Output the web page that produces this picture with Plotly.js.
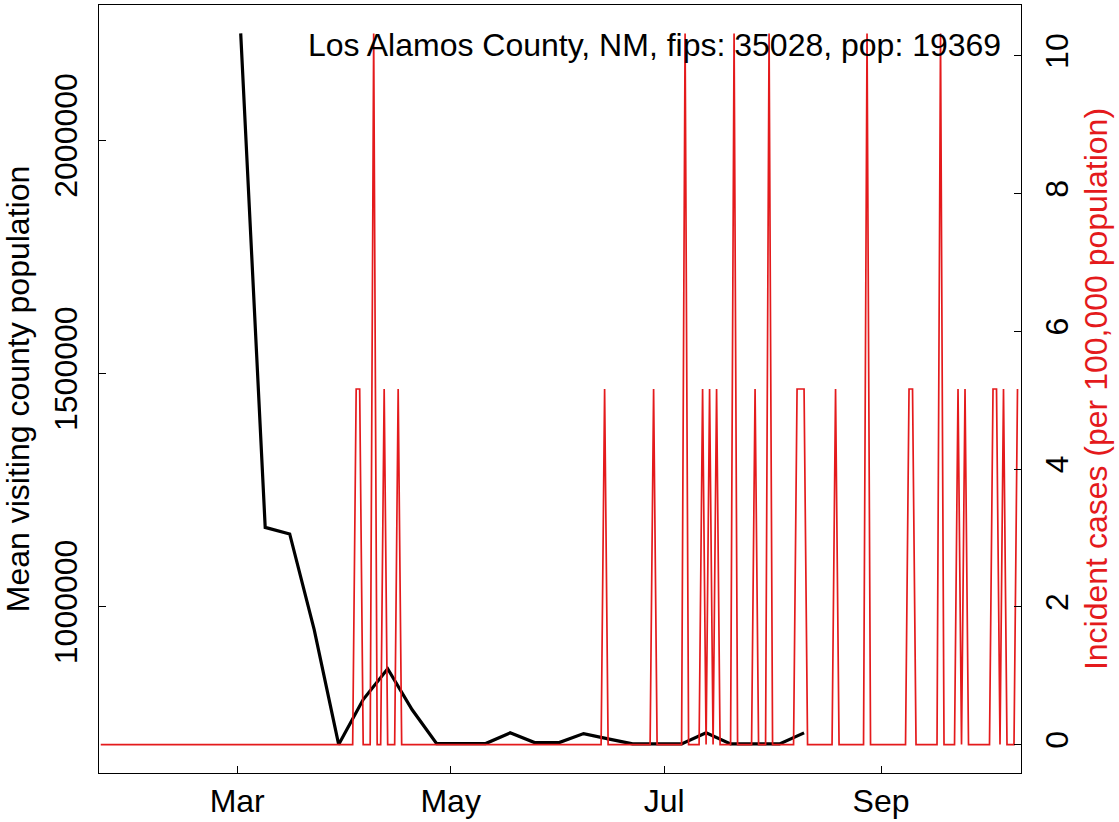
<!DOCTYPE html>
<html>
<head>
<meta charset="utf-8">
<script src="https://cdn.plot.ly/plotly-3.0.1.min.js"></script>
<style>html,body{margin:0;padding:0;background:#fff;}#chart{width:1119px;height:822px;}</style>
</head>
<body>
<div id="chart"></div>
<script>
// ---- Data ----
const countyLabel = "Los Alamos County, NM, fips: 35028, pop: 19369";
const countyPop = 19369;

// Weekly mean visiting county population (black line)
const visitDates = [
  "2020-03-02","2020-03-09","2020-03-16","2020-03-23","2020-03-30","2020-04-06",
  "2020-04-13","2020-04-20","2020-04-27","2020-05-04","2020-05-11","2020-05-18",
  "2020-05-25","2020-06-01","2020-06-08","2020-06-15","2020-06-22","2020-06-29",
  "2020-07-06","2020-07-13","2020-07-20","2020-07-27","2020-08-03","2020-08-10"
];
const visitPop = [
  2229000, 1170000, 1156000, 951000, 704500, 801000,
  867000, 779000, 706600, 706600, 706600, 729600,
  708800, 708800, 728000, 716700, 706000, 706000,
  706000, 729600, 706000, 706000, 706000, 729600
];

// Daily incident cases: days with reported cases (all other days are 0)
const seriesStart = "2020-01-22";
const seriesEnd = "2020-10-10";
const caseDates = [
  "2020-04-04","2020-04-05","2020-04-09","2020-04-12","2020-04-16",
  "2020-06-14","2020-06-28","2020-07-07","2020-07-12","2020-07-14",
  "2020-07-16","2020-07-21","2020-07-27","2020-07-31","2020-08-08",
  "2020-08-09","2020-08-10","2020-08-19","2020-08-28","2020-09-09",
  "2020-09-10","2020-09-18","2020-09-23","2020-09-25","2020-10-03",
  "2020-10-04","2020-10-06","2020-10-10"
];
const caseCounts = [
  1,1,2,1,1,
  1,1,2,1,1,
  1,2,1,2,1,
  1,1,1,2,1,
  1,2,1,1,1,
  1,1,1
];

// Axis ticks
const xTickVals = ["2020-03-01","2020-05-01","2020-07-01","2020-09-01"];
const xTickText = ["Mar","May","Jul","Sep"];
const yLeftTicks = [1000000, 1500000, 2000000];
const yRightTicks = [0, 2, 4, 6, 8, 10];

// ---- Build daily incidence series ----
const caseMap = {};
caseDates.forEach((d, i) => { caseMap[d] = caseCounts[i]; });
const dailyDates = [], dailyInc = [];
{
  let cur = new Date(seriesStart + "T00:00:00Z");
  const end = new Date(seriesEnd + "T00:00:00Z");
  while (cur <= end) {
    const s = cur.toISOString().slice(0, 10);
    dailyDates.push(s);
    dailyInc.push((caseMap[s] || 0) / countyPop * 100000);
    cur = new Date(cur.getTime() + 86400000);
  }
}

// R-style 4% axis padding
function padRange(arr) {
  const mn = Math.min(...arr), mx = Math.max(...arr);
  const p = (mx - mn) * 0.04;
  return [mn - p, mx + p];
}

const FONT = "Liberation Sans, Arial, Helvetica, sans-serif";
const RED = "#E41A1C";
const FS = 32;

const traces = [
  {
    x: dailyDates, y: dailyInc, type: "scatter", mode: "lines",
    line: {color: RED, width: 1.7}, xaxis: "x", yaxis: "y2", hoverinfo: "skip"
  },
  {
    x: visitDates, y: visitPop, type: "scatter", mode: "lines",
    line: {color: "#000000", width: 3.2}, xaxis: "x", yaxis: "y", hoverinfo: "skip"
  }
];

const axisCommon = {
  showgrid: false, zeroline: false, showline: true, linecolor: "#000", linewidth: 1,
  ticks: "inside", ticklen: 7, tickwidth: 1, tickcolor: "#000",
  tickfont: {family: FONT, size: FS, color: "#000"}
};

const layout = {
  width: 1119, height: 822,
  margin: {l: 99, r: 98, t: 5, b: 49, pad: 0},
  paper_bgcolor: "#fff", plot_bgcolor: "#fff",
  showlegend: false,
  font: {family: FONT, size: FS, color: "#000"},
  xaxis: Object.assign({}, axisCommon, {
    type: "date",
    range: ["2020-01-21 12:00", "2020-10-11 00:00"],
    tickmode: "array", tickvals: xTickVals, ticktext: xTickText,
    mirror: true, ticklabelstandoff: 0
  }),
  yaxis: Object.assign({}, axisCommon, {
    range: padRange(visitPop),
    tickmode: "array", tickvals: yLeftTicks, ticktext: yLeftTicks.map(v => String(v)),
    tickangle: -90, mirror: true, ticklabelstandoff: 8,
    title: {text: "Mean visiting county population", font: {family: FONT, size: FS, color: "#000"}, standoff: 10}
  }),
  yaxis2: Object.assign({}, axisCommon, {
    overlaying: "y", side: "right", anchor: "x",
    range: padRange(dailyInc),
    tickmode: "array", tickvals: yRightTicks, ticktext: yRightTicks.map(v => String(v)),
    tickangle: -90, ticklabelstandoff: 8,
    title: {text: "Incident cases (per 100,000 population)", font: {family: FONT, size: FS, color: RED}, standoff: 10}
  }),
  annotations: [{
    text: countyLabel, xref: "paper", yref: "paper",
    x: 0.9805, y: 0.948, xanchor: "right", yanchor: "middle",
    showarrow: false, font: {family: FONT, size: FS, color: "#000"}
  }]
};

Plotly.newPlot("chart", traces, layout, {staticPlot: true, displayModeBar: false});
</script>
</body>
</html>
